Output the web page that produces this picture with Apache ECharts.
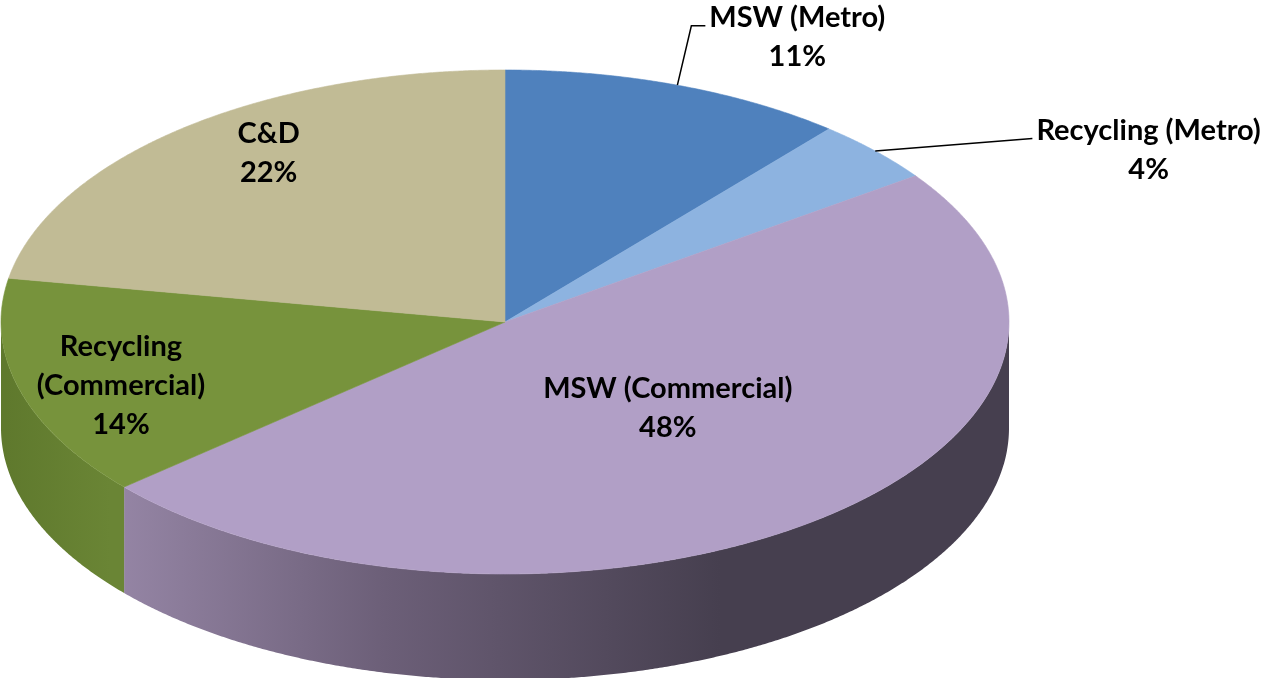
<!DOCTYPE html>
<html>
<head>
<meta charset="utf-8">
<title>Waste share</title>
<script src="https://cdn.jsdelivr.net/npm/echarts@6/dist/echarts.min.js"></script>
<style>
    html, body { margin: 0; padding: 0; background: #fff; }
    #chart { width: 1272px; height: 678px; }
</style>
</head>
<body>
<div id="chart"></div>
<script>
// Slice data (clockwise from 12 o'clock)
const categories = ['MSW (Metro)', 'Recycling (Metro)', 'MSW (Commercial)', 'Recycling\n(Commercial)', 'C&D'];
const shares = [11, 4, 48, 14, 22];
const topColors = ['#4f81bd', '#8db3e0', '#b19fc6', '#77933c', '#c1bb95'];

// Layout of the tilted pie
const GEOM = { cx: 505, cy: 322, rx: 504, ry: 252, depth: 106 };
const FONT = { family: 'Lato', size: 29, lineHeight: 39 };
// label block centre, in units of the ellipse radii from the centre
const labelOffsets = [[0.58, -1.13], [1.277, -0.683], [0.323, 0.341], [-0.762, 0.254], [-0.469, -0.671]];
const outside = [true, true, false, false, false];

const total = shares.reduce((a, b) => a + b, 0);
const cum = [0];
shares.forEach(v => cum.push(cum[cum.length - 1] + v));

function pt(theta, dy) {
    return [GEOM.cx + GEOM.rx * Math.sin(theta), GEOM.cy - GEOM.ry * Math.cos(theta) + (dy || 0)];
}

function arc(a, b, dy) {
    const pts = [];
    const n = Math.max(2, Math.ceil((b - a) / 0.005));
    for (let k = 0; k <= n; k++) pts.push(pt(a + (b - a) * k / n, dy));
    return pts;
}

const measureCtx = document.createElement('canvas').getContext('2d');
function textWidth(s) {
    measureCtx.font = 'bold ' + FONT.size + 'px ' + FONT.family;
    return measureCtx.measureText(s).width;
}

function wallFill(i) {
    if (i === 3) {
        return new echarts.graphic.LinearGradient(5, 0, 110, 0, [
            { offset: 0, color: '#5f792d' },
            { offset: 1, color: '#6a8535' }
        ], true);
    }
    return new echarts.graphic.LinearGradient(110, 0, 720, 0, [
        { offset: 0, color: '#9686a6' },
        { offset: 0.45, color: '#6c5f78' },
        { offset: 1, color: '#463f4f' }
    ], true);
}

function renderItem(params, api) {
    const i = params.dataIndex;
    const start = cum[i] / total * Math.PI * 2;
    const end = cum[i + 1] / total * Math.PI * 2;
    const children = [];

    // side wall on the front half
    const a = Math.max(start, Math.PI / 2);
    const b = Math.min(end, Math.PI * 1.5);
    if (b > a) {
        const pts = arc(a, b, 0).concat(arc(a, b, GEOM.depth).reverse());
        children.push({
            type: 'polygon',
            shape: { points: pts },
            style: { fill: wallFill(i), stroke: null }
        });
    }

    // top face
    children.push({
        type: 'polygon',
        shape: { points: [[GEOM.cx, GEOM.cy]].concat(arc(start, end, 0)) },
        style: { fill: topColors[i], stroke: topColors[i], lineWidth: 0.6 }
    });

    // label
    const pct = Math.round(api.value(0) / total * 100) + '%';
    const text = categories[i] + '\n' + pct;
    const lx = GEOM.cx + labelOffsets[i][0] * GEOM.rx;
    const ly = GEOM.cy + labelOffsets[i][1] * GEOM.ry;
    children.push({
        type: 'text',
        x: lx,
        y: ly,
        z2: 10,
        style: {
            text: text,
            align: 'center',
            verticalAlign: 'middle',
            fontFamily: FONT.family,
            fontWeight: 'bold',
            fontSize: FONT.size,
            lineHeight: FONT.lineHeight,
            fill: '#000'
        }
    });

    if (outside[i]) {
        const edge = pt((start + end) / 2, 0);
        const lines = text.split('\n');
        const w = textWidth(lines[0]);
        const rowY = ly - FONT.lineHeight * lines.length / 2 + FONT.lineHeight / 2;
        const endPt = [lx - w / 2 - 4, rowY + 8];
        const pts = i === 0
            ? [edge, [endPt[0] - 14, endPt[1]], endPt]
            : [edge, endPt];
        children.push({
            type: 'polyline',
            z2: 10,
            shape: { points: pts },
            style: { stroke: '#000', lineWidth: 1.5, fill: null }
        });
    }

    return { type: 'group', children: children };
}

const chart = echarts.init(document.getElementById('chart'));
chart.setOption({
    animation: false,
    series: [{
        type: 'custom',
        coordinateSystem: 'none',
        renderItem: renderItem,
        data: shares.map((v, i) => ({ name: categories[i], value: [v] }))
    }]
});
</script>
</body>
</html>
